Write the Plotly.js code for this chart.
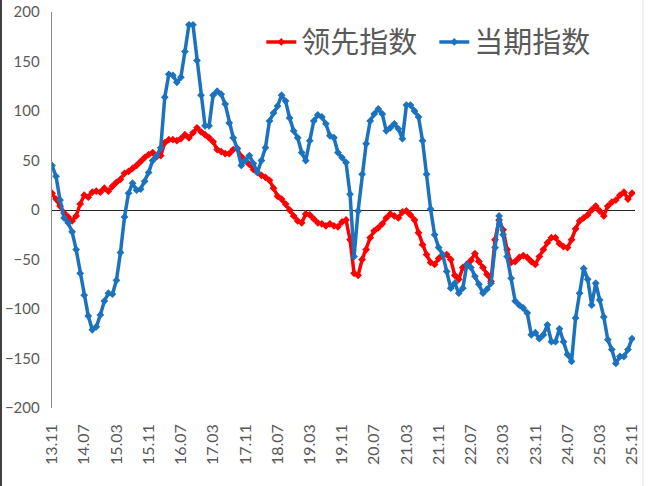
<!DOCTYPE html>
<html><head><meta charset="utf-8">
<script src="https://cdn.plot.ly/plotly-3.0.1.min.js"></script>
<style>html,body{margin:0;padding:0;background:#fff}#chart{width:650px;height:486px}</style>
</head><body><div id="chart"></div>
<script>
const months = [
"13.11","13.12",
"14.01","14.02","14.03","14.04","14.05","14.06","14.07","14.08","14.09","14.10","14.11","14.12",
"15.01","15.02","15.03","15.04","15.05","15.06","15.07","15.08","15.09","15.10","15.11","15.12",
"16.01","16.02","16.03","16.04","16.05","16.06","16.07","16.08","16.09","16.10","16.11","16.12",
"17.01","17.02","17.03","17.04","17.05","17.06","17.07","17.08","17.09","17.10","17.11","17.12",
"18.01","18.02","18.03","18.04","18.05","18.06","18.07","18.08","18.09","18.10","18.11","18.12",
"19.01","19.02","19.03","19.04","19.05","19.06","19.07","19.08","19.09","19.10","19.11","19.12",
"20.01","20.02","20.03","20.04","20.05","20.06","20.07","20.08","20.09","20.10","20.11","20.12",
"21.01","21.02","21.03","21.04","21.05","21.06","21.07","21.08","21.09","21.10","21.11","21.12",
"22.01","22.02","22.03","22.04","22.05","22.06","22.07","22.08","22.09","22.10","22.11","22.12",
"23.01","23.02","23.03","23.04","23.05","23.06","23.07","23.08","23.09","23.10","23.11","23.12",
"24.01","24.02","24.03","24.04","24.05","24.06","24.07","24.08","24.09","24.10","24.11","24.12",
"25.01","25.02","25.03","25.04","25.05","25.06","25.07","25.08","25.09","25.10","25.11"];

const leadingIndex = [
17,11,4,-3,-7,-11,-6,6,15,13,18,19,18,22,19,24,28,31,37,39,
42,45,49,53,56,58,54,55,68,71,71,70,72,76,73,78,83,79,76,73,
69,61,59,57,57,61,62,54,50,46,41,38,35,33,30,22,14,11,6,0,
-6,-11,-13,-4,-5,-9,-13,-14,-16,-14,-16,-17,-12,-10,-30,-64,-66,-50,-40,-28,
-21,-18,-14,-8,-4,-6,-8,-2,-1,-5,-10,-23,-35,-45,-53,-55,-49,-46,-45,-50,
-66,-70,-58,-55,-51,-44,-52,-58,-65,-72,-30,-10,-20,-40,-53,-52,-48,-46,-48,-52,
-55,-47,-40,-33,-28,-28,-34,-37,-38,-30,-19,-11,-8,-5,0,4,-1,-6,4,8,
10,15,18,11,17];

const currentIndex = [
45,34,10,-8,-13,-22,-40,-64,-86,-107,-121,-118,-106,-92,-84,-85,-71,-43,-7,17,
27,20,21,29,38,50,55,63,114,137,136,129,134,160,187,187,151,116,85,85,
116,120,117,107,88,73,62,45,50,55,47,38,50,63,90,98,105,116,110,93,
80,73,58,50,70,90,96,94,87,75,73,58,53,48,16,-47,-1,36,67,90,
97,102,97,80,83,87,82,72,106,106,100,94,70,36,1,-25,-38,-45,-62,-79,
-74,-84,-79,-55,-58,-67,-75,-84,-80,-74,-38,-6,-25,-47,-69,-92,-96,-99,-104,-126,
-124,-130,-126,-116,-133,-133,-120,-133,-146,-153,-109,-84,-59,-70,-96,-74,-91,-108,-131,-141,
-155,-148,-148,-141,-130];

const tickLabels = ["13.11","14.07","15.03","15.11","16.07","17.03","17.11","18.07","19.03","19.11",
"20.07","21.03","21.11","22.07","23.03","23.11","24.07","25.03","25.11"];
const yTicks = [-200,-150,-100,-50,0,50,100,150,200];

const seriesNames = ["领先指数","当期指数"];
const RED = "#FF0000", BLUE = "#1B72BE";

const traces = [
  {x: months, y: leadingIndex, name: seriesNames[0], type: "scatter", mode: "lines+markers",
   line: {color: RED, width: 3.5}, marker: {symbol: "diamond", size: 6, color: RED}},
  {x: months, y: currentIndex, name: seriesNames[1], type: "scatter", mode: "lines+markers",
   line: {color: BLUE, width: 3.5}, marker: {symbol: "diamond", size: 6, color: BLUE}}
];

const tickFont = {family: "Lato, 'Liberation Sans', sans-serif", size: 15, color: "#595959"};
const xTickFont = {family: "Lato, 'Liberation Sans', sans-serif", size: 16, color: "#595959"};

const layout = {
  width: 650, height: 486,
  margin: {l: 52, r: 15, t: 12, b: 78},
  paper_bgcolor: "#fff", plot_bgcolor: "#fff",
  showlegend: true,
  legend: {orientation: "h", x: 0.359, xanchor: "left", y: 0.924, yanchor: "middle",
    entrywidth: 128, entrywidthmode: "pixels",
    font: {family: "'Noto Sans CJK SC', sans-serif", size: 29, color: "#595959"},
    bgcolor: "rgba(0,0,0,0)"},
  xaxis: {type: "category", range: [0, 144.75], tickmode: "array", tickvals: tickLabels, ticktext: tickLabels,
    tickangle: -90, ticks: "", showgrid: false, zeroline: false, showline: false,
    tickfont: xTickFont, ticklabelstandoff: 12, fixedrange: true},
  yaxis: {range: [-200, 200], tickmode: "array", tickvals: yTicks, ticks: "", showgrid: false,
    showline: true, linecolor: "#8c8c8c", linewidth: 1.3,
    zeroline: true, zerolinecolor: "#262626", zerolinewidth: 1,
    tickfont: tickFont, ticklabelstandoff: 8, fixedrange: true},
  shapes: [
    {type: "line", xref: "paper", yref: "paper", x0: -0.0875, x1: -0.0875, y0: -0.2, y1: 1.04,
     line: {color: "#404040", width: 2}},
    {type: "line", xref: "paper", yref: "paper", x0: 1.0137, x1: 1.0137, y0: -0.2, y1: 1.04,
     line: {color: "#e0e0e0", width: 1}}
  ]
};

Plotly.newPlot("chart", traces, layout, {displayModeBar: false, staticPlot: true});
</script>
</body></html>
